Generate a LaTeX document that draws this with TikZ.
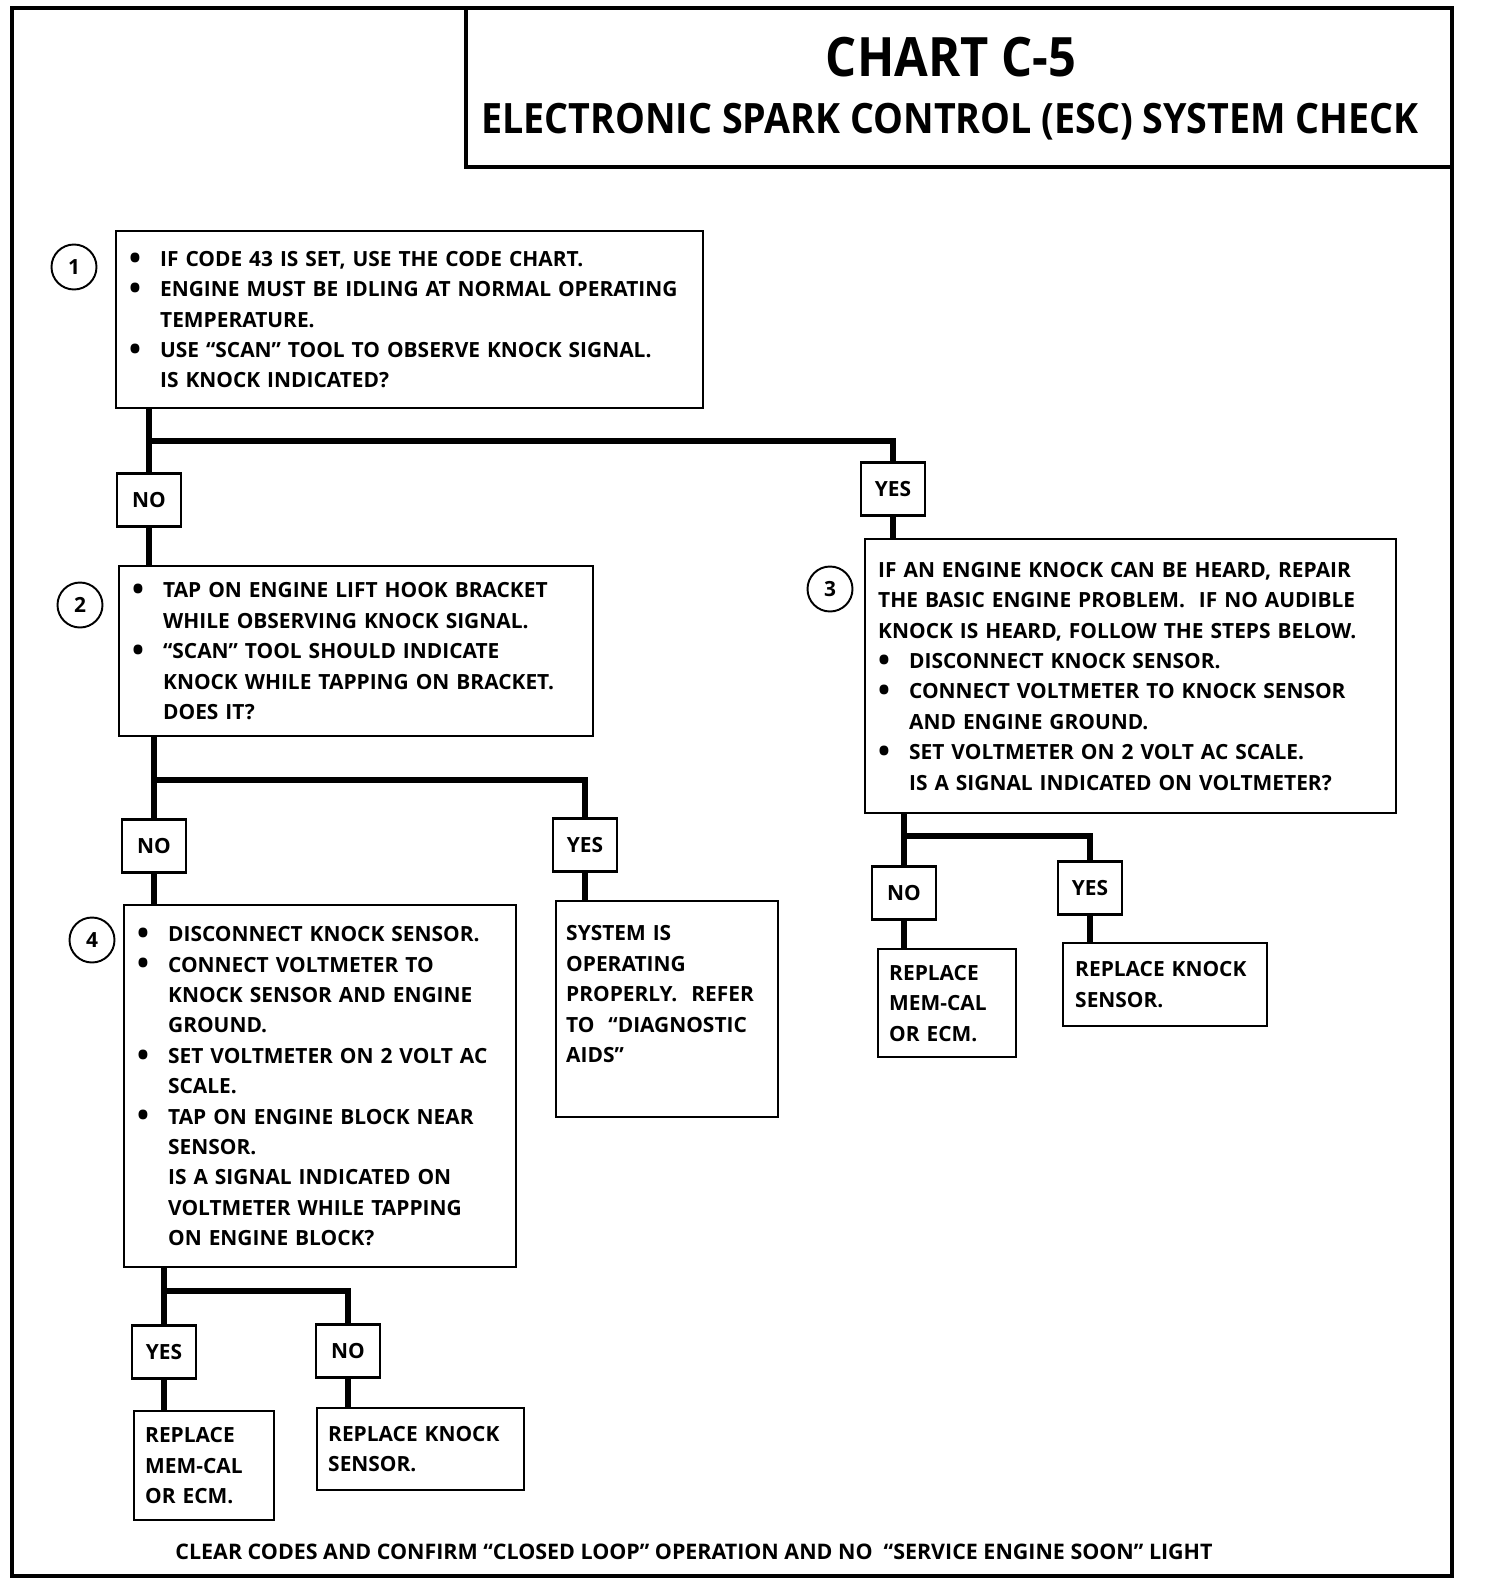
\documentclass[tikz,border=0pt]{standalone}
\usepackage{fontspec}
\setmainfont{Open Sans}
\newfontfamily\titlefont{Open Sans}[FakeStretch=0.9]
\newlength{\upx}
\setlength{\upx}{0.02cm}
\newcommand{\bodyfont}{\fontsize{11.9}{17.3}\selectfont\bfseries}
\newcommand{\bul}{\makebox[17.6pt][l]{\raisebox{-1.6pt}{\fontsize{18}{18}\selectfont\textbullet}}}
\newcommand{\ind}{\hspace*{17.6pt}}

\begin{document}
\begin{tikzpicture}[x=0.02cm, y=-0.02cm,
    stepbox/.style={draw, line width=1.4pt, anchor=north west, align=left, inner xsep=13\upx, inner ysep=0pt, font=\bodyfont},
    answer/.style={draw, line width=1.4pt, minimum width=64\upx, minimum height=53\upx, inner sep=0pt, font=\bodyfont},
    stepnum/.style={draw, circle, line width=1.1pt, minimum size=45\upx, inner sep=0pt, font=\bodyfont},
    flow/.style={line width=3.4pt}]
    \useasboundingbox (0,0) rectangle (1504,1588);
    % frame and title block
    \draw[line width=2.2pt] (12,8) rectangle (1452,1576);
    \draw[line width=2pt] (466,8) |- (1452,167);
    \node[anchor=base, font=\titlefont\bfseries\fontsize{30.9}{31}\selectfont] (chart) at (951,77) {CHART C-5};
    \node[anchor=base, font=\titlefont\bfseries\fontsize{23.8}{24}\selectfont] (title) at (950,134) {ELECTRONIC SPARK CONTROL (ESC) SYSTEM CHECK};

    \node[stepbox, text width=561\upx, minimum height=177\upx] (b1) at (115,230) {\bul IF CODE 43 IS SET, USE THE CODE CHART.\\ \bul ENGINE MUST BE IDLING AT NORMAL OPERATING\\ \ind TEMPERATURE.\\ \bul USE ``SCAN'' TOOL TO OBSERVE KNOCK SIGNAL.\\ \ind IS KNOCK INDICATED?};
    \node[stepbox, text width=448\upx, minimum height=170\upx] (b2) at (118,565) {\bul TAP ON ENGINE LIFT HOOK BRACKET\\ \ind WHILE OBSERVING KNOCK SIGNAL.\\ \bul ``SCAN'' TOOL SHOULD INDICATE\\ \ind KNOCK WHILE TAPPING ON BRACKET.\\ \ind DOES IT?};
    \node[stepbox, text width=505\upx, minimum height=274\upx] (b3) at (864,538) {IF AN ENGINE KNOCK CAN BE HEARD, REPAIR\\ THE BASIC ENGINE PROBLEM.\ \ IF NO AUDIBLE\\ KNOCK IS HEARD, FOLLOW THE STEPS BELOW.\\ \bul DISCONNECT KNOCK SENSOR.\\ \bul CONNECT VOLTMETER TO KNOCK SENSOR\\ \ind AND ENGINE GROUND.\\ \bul SET VOLTMETER ON 2 VOLT AC SCALE.\\ \ind IS A SIGNAL INDICATED ON VOLTMETER?};
    \node[stepbox, text width=366\upx, minimum height=362\upx] (b4) at (123,904) {\bul DISCONNECT KNOCK SENSOR.\\ \bul CONNECT VOLTMETER TO\\ \ind KNOCK SENSOR AND ENGINE\\ \ind GROUND.\\ \bul SET VOLTMETER ON 2 VOLT AC\\ \ind SCALE.\\ \bul TAP ON ENGINE BLOCK NEAR\\ \ind SENSOR.\\ \ind IS A SIGNAL INDICATED ON\\ \ind VOLTMETER WHILE TAPPING\\ \ind ON ENGINE BLOCK?};
    \node[stepbox, inner xsep=10\upx, text width=202\upx, minimum height=216\upx] (ok) at (555,900) {SYSTEM IS\\ OPERATING\\ PROPERLY.\ \ REFER\\ TO\ \ ``DIAGNOSTIC\\ AIDS''\\ ~};
    \node[stepbox, inner xsep=11\upx, text width=116\upx, minimum height=108\upx] (ecm3) at (877,948) {REPLACE\\ MEM-CAL\\ OR ECM.};
    \node[stepbox, inner xsep=12\upx, text width=180\upx, minimum height=83\upx] (ks3) at (1062,942) {REPLACE KNOCK\\ SENSOR.};
    \node[stepbox, inner xsep=11\upx, text width=118\upx, minimum height=109\upx] (ecm4) at (133,1410) {REPLACE\\ MEM-CAL\\ OR ECM.};
    \node[stepbox, inner xsep=11\upx, text width=185\upx, minimum height=82\upx] (ks4) at (316,1407) {REPLACE KNOCK\\ SENSOR.};

    \node[stepnum] (c1) at (74,267) {1};
    \node[stepnum] (c2) at (80,605) {2};
    \node[stepnum] (c3) at (830,589) {3};
    \node[stepnum] (c4) at (92,940) {4};

    \node[answer] (no1) at (149,500) {NO};
    \node[answer] (yes1) at (893,489) {YES};
    \node[answer] (no2) at (154,846) {NO};
    \node[answer] (yes2) at (585,845) {YES};
    \node[answer] (no3) at (904,893) {NO};
    \node[answer] (yes3) at (1090,888) {YES};
    \node[answer] (yes4) at (164,1352) {YES};
    \node[answer] (no4) at (348,1351) {NO};

    \coordinate (j1) at (149,441);
    \coordinate (j2) at (154,780);
    \coordinate (j3) at (904,836);
    \coordinate (j4) at (164,1291);

    \draw[flow] (j1 |- b1.south) -- (j1) -| (yes1.north);
    \draw[flow] (j1) -- (no1.north);
    \draw[flow] (no1.south) -- (no1.south |- b2.north);
    \draw[flow] (yes1.south) -- (yes1.south |- b3.north);
    \draw[flow] (j2 |- b2.south) -- (j2) -| (yes2.north);
    \draw[flow] (j2) -- (no2.north);
    \draw[flow] (no2.south) -- (no2.south |- b4.north);
    \draw[flow] (yes2.south) -- (yes2.south |- ok.north);
    \draw[flow] (j3 |- b3.south) -- (j3) -| (yes3.north);
    \draw[flow] (j3) -- (no3.north);
    \draw[flow] (no3.south) -- (no3.south |- ecm3.north);
    \draw[flow] (yes3.south) -- (yes3.south |- ks3.north);
    \draw[flow] (j4 |- b4.south) -- (j4) -| (no4.north);
    \draw[flow] (j4) -- (yes4.north);
    \draw[flow] (yes4.south) -- (yes4.south |- ecm4.north);
    \draw[flow] (no4.south) -- (no4.south |- ks4.north);

    \node[anchor=base, font=\bfseries\fontsize{12.2}{14}\selectfont] (note) at (694,1559) {CLEAR CODES AND CONFIRM ``CLOSED LOOP'' OPERATION AND NO\ \ ``SERVICE ENGINE SOON'' LIGHT};
\end{tikzpicture}
\end{document}
